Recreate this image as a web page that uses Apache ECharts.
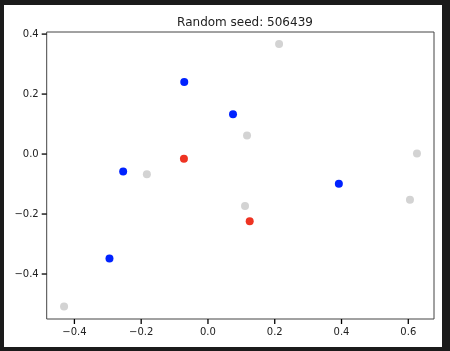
<!DOCTYPE html>
<html><head><meta charset="utf-8">
<script src="https://cdn.jsdelivr.net/npm/echarts@6/dist/echarts.min.js"></script>
<style>
html,body{margin:0;padding:0;background:#1b1b1b;width:450px;height:351px;overflow:hidden}
#c{position:absolute;left:4px;top:5px;width:438px;height:342px;background:#fff}
</style></head>
<body><div id="c"></div>
<script>
const titleText = "Random seed: 506439";
const greyPoints = [[0.213,0.367],[0.117,0.062],[0.111,-0.173],[0.626,0.002],[0.605,-0.152],[-0.183,-0.067],[-0.431,-0.508]];
const bluePoints = [[-0.071,0.240],[0.075,0.133],[-0.254,-0.058],[-0.295,-0.348],[0.392,-0.099]];
const redPoints = [[-0.072,-0.016],[0.125,-0.224]];
const xTicks = [-0.4,-0.2,0.0,0.2,0.4,0.6];
const yTicks = [-0.4,-0.2,0.0,0.2,0.4];
const xRange = [-0.483, 0.677];
const yRange = [-0.550, 0.407];

const fmt = v => (Math.round(v*10)/10).toFixed(1).replace('-', '\u2212');
const font = 'DejaVu Sans';
const tickLen = 5;
const tickData = xTicks.map(v => [v, yRange[0], 0]).concat(yTicks.map(v => [xRange[0], v, 1]));
const chart = echarts.init(document.getElementById('c'), null, {renderer:'canvas'});
const labelStyle = {color:'#222', fontFamily:font, fontSize:10, margin:8, formatter:fmt};
chart.setOption({
  animation:false,
  backgroundColor:'#fff',
  title:{text:titleText, left:236, top:7, textAlign:'center',
    textStyle:{fontFamily:font, fontSize:12, fontWeight:'normal', color:'#222'}},
  grid:{left:42.7, top:27, right:8, bottom:28, show:true, borderColor:'#444', borderWidth:1, containLabel:false},
  xAxis:{type:'value', min:xRange[0], max:xRange[1], position:'bottom',
    axisLine:{show:false, onZero:false}, splitLine:{show:false}, axisTick:{show:false},
    axisLabel:Object.assign({customValues:xTicks}, labelStyle)},
  yAxis:{type:'value', min:yRange[0], max:yRange[1], position:'left',
    axisLine:{show:false, onZero:false}, splitLine:{show:false}, axisTick:{show:false},
    axisLabel:Object.assign({customValues:yTicks}, labelStyle)},
  series:[
    {type:'scatter', data:greyPoints, symbolSize:8, itemStyle:{color:'#d3d3d3', opacity:1}},
    {type:'scatter', data:bluePoints, symbolSize:8, itemStyle:{color:'#0022ff', opacity:1}},
    {type:'scatter', data:redPoints, symbolSize:8, itemStyle:{color:'#ee3322', opacity:1}},
    {type:'custom', data:tickData, clip:false, silent:true, z:10,
      renderItem:function (params, api) {
        const p = api.coord([api.value(0), api.value(1)]);
        const isY = api.value(2) === 1;
        const shape = isY
          ? {x1:p[0]-tickLen, y1:p[1], x2:p[0], y2:p[1]}
          : {x1:p[0], y1:p[1], x2:p[0], y2:p[1]+tickLen};
        return {type:'line', shape:shape, style:{stroke:'#000', lineWidth:1.3, fill:null}};
      }}
  ]
});
</script></body></html>
